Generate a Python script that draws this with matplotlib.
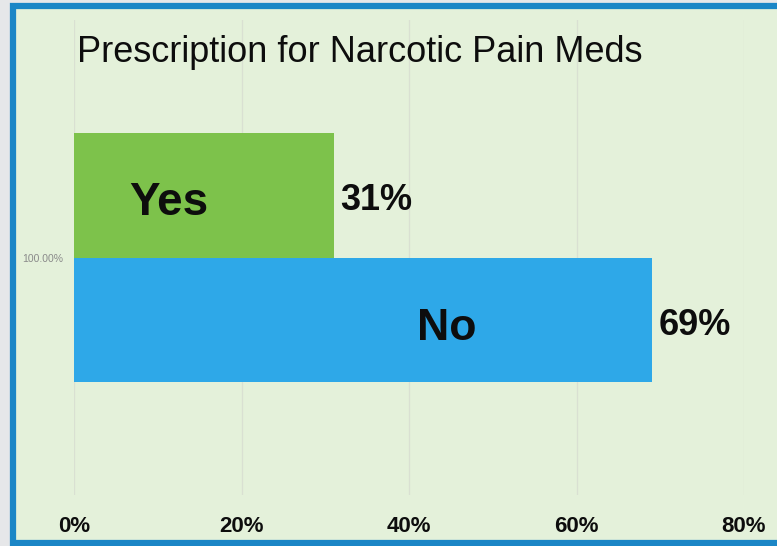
import matplotlib
matplotlib.use("Agg")
import matplotlib.pyplot as plt
from matplotlib.patches import Rectangle

title = "Prescription for Narcotic Pain Meds"
series = ["Yes", "No"]
values = [0.31, 0.69]
value_labels = ["31%", "69%"]
colors = ["#7dc24b", "#2ea8e8"]
category_label = "100.00%"
xticks = [0.0, 0.2, 0.4, 0.6, 0.8]
xtick_labels = ["0%", "20%", "40%", "60%", "80%"]

W, H = 777, 546
fig = plt.figure(figsize=(W / 100, H / 100), dpi=100)
fig.patch.set_facecolor("#e6e7e9")
plt.rcParams['font.family'] = ['Liberation Sans', 'DejaVu Sans']

# panel background with blue frame
frame = Rectangle((13 / W, 3 / H), (W + 10 - 13) / W, (H - 5.5 - 3) / H,
                  transform=fig.transFigure, facecolor="#e4f1da",
                  edgecolor="#1b86c6", linewidth=4.5, zorder=-5)
fig.patches.append(frame)

left, right = 74 / W, 744 / W
bottom, top = 1 - 495 / H, 1 - 20 / H
ax = fig.add_axes([left, bottom, right - left, top - bottom])
ax.set_zorder(2)
ax.set_facecolor("none")
ax.set_xlim(0, 0.8)
ax.set_ylim(-1, 1)

bar_h = 0.526
centers = [bar_h / 2, -bar_h / 2]
ax.barh(centers, values, height=bar_h, color=colors, zorder=2)

for s in ax.spines.values():
    s.set_visible(False)
ax.set_xticks(xticks)
ax.set_xticklabels(xtick_labels, fontsize=16, fontweight="bold", color="#0d0d0d")
ax.tick_params(axis="x", length=0, pad=15)
ax.set_yticks([0])
ax.set_yticklabels([category_label], fontsize=7.5, color="#8a8a8a")
ax.tick_params(axis="y", length=0, pad=8)
ax.grid(axis="x", color="#d9e0d2", linewidth=0.9, zorder=1)
ax.set_axisbelow(True)

# inside series labels
inside_x = [0.113, 0.445]
ax.text(inside_x[0], centers[0] - 0.085, series[0], fontsize=33, fontweight="bold",
        ha="center", va="baseline", color="#0d0d0d", zorder=3)
ax.text(inside_x[1], centers[1] - 0.085, series[1], fontsize=32, fontweight="bold",
        ha="center", va="baseline", color="#0d0d0d", zorder=3)
for c, v, lab in zip(centers, values, value_labels):
    ax.text(v + 0.008, c - 0.062, lab, fontsize=26, fontweight="bold",
            ha="left", va="baseline", color="#0d0d0d", zorder=3)

fig.text(77 / W, 1 - 62 / H, title, fontsize=26, ha="left", va="baseline",
         color="#0d0d0d", zorder=3)

fig.savefig("out.png", dpi=100, facecolor=fig.get_facecolor())
